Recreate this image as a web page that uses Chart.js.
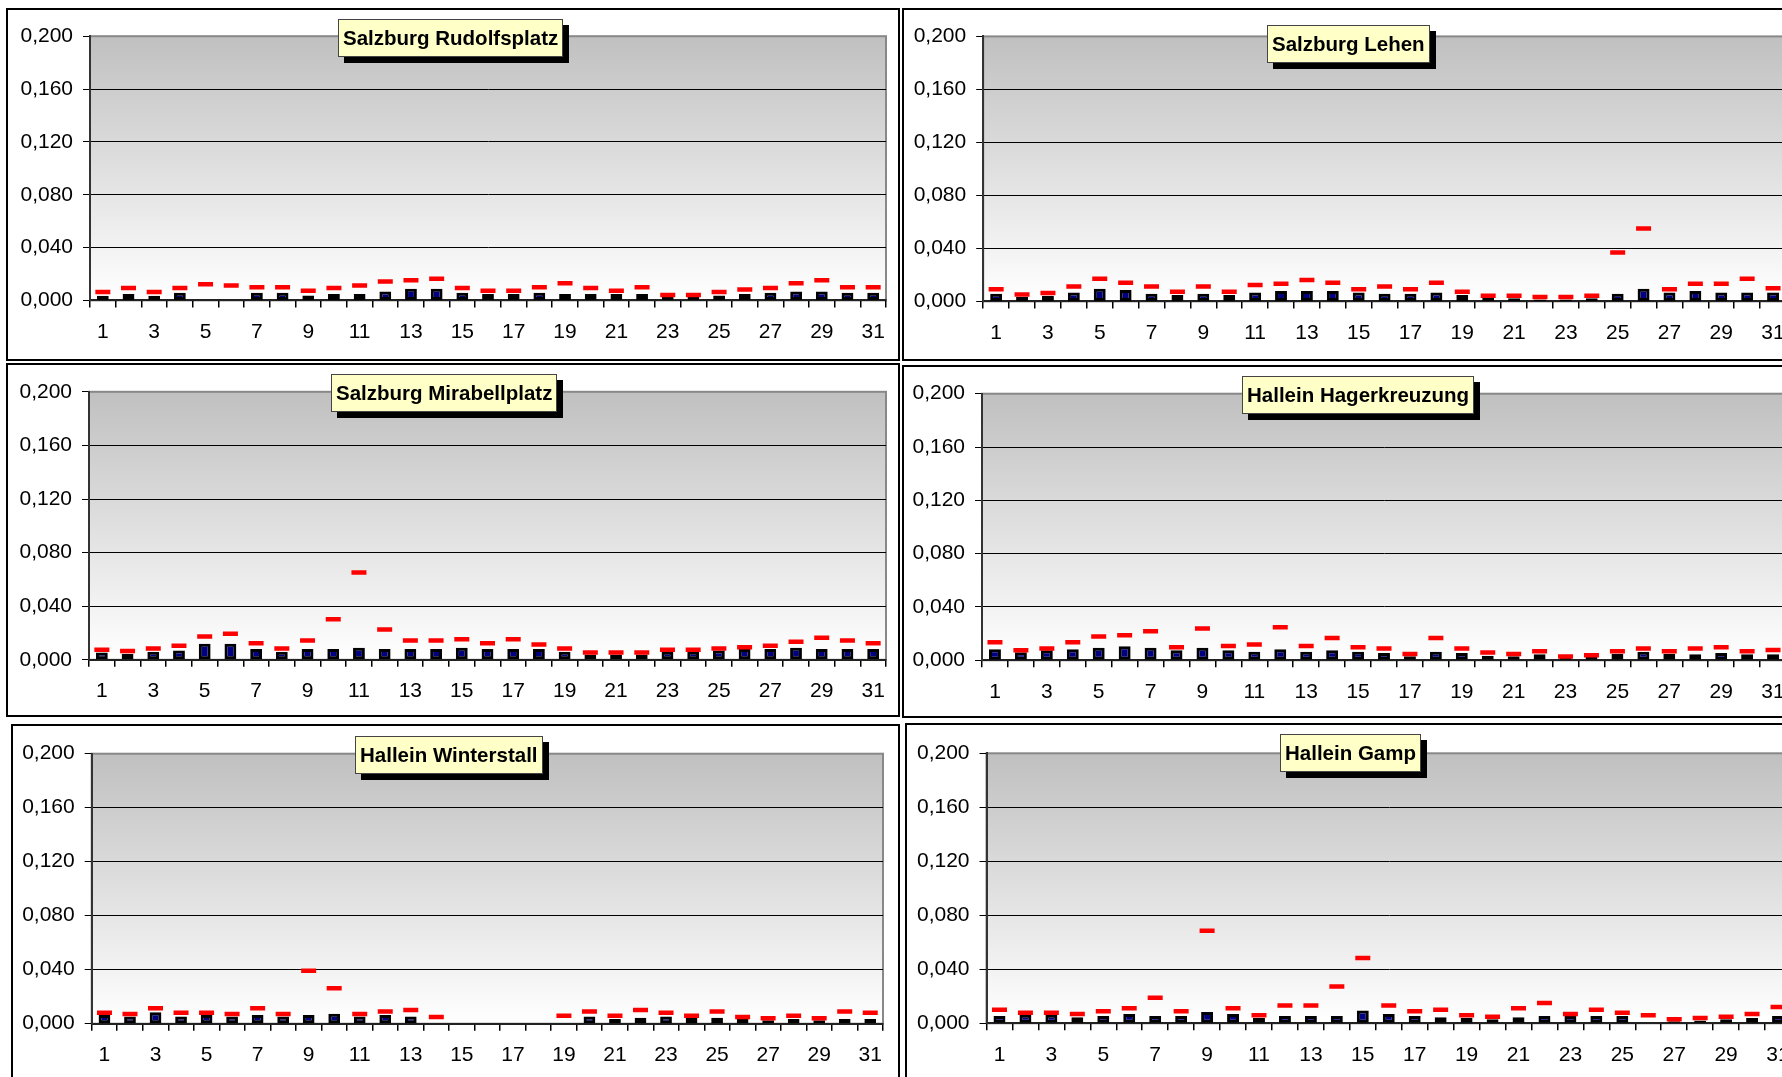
<!DOCTYPE html>
<html>
<head>
<meta charset="utf-8">
<script src="https://cdn.jsdelivr.net/npm/chart.js@4.4.0/dist/chart.umd.min.js"></script>
<style>
  html, body { margin: 0; padding: 0; width: 1782px; height: 1077px; overflow: hidden; background: #ffffff; }
  .panel { position: absolute; border: 2px solid #000; box-sizing: border-box; background: #fff; }
  .panel canvas { position: absolute; left: 0; top: 0; }
  .title {
    position: absolute; z-index: 2; white-space: nowrap; color: #000;
    background: #ffffc8; border: 1px solid #444; box-shadow: 6px 6px 0 #000;
    font: bold 20.5px "Liberation Sans", Arial, sans-serif; line-height: 22px; padding: 7px 4px 7px 4px;
  }
</style>
</head>
<body>
<script>
// Days of the month (x categories)
const days = [1, 2, 3, 4, 5, 6, 7, 8, 9, 10, 11, 12, 13, 14, 15, 16, 17, 18, 19, 20, 21, 22, 23, 24, 25, 26, 27, 28, 29, 30, 31];

// Station names
const stationNames = ["Salzburg Rudolfsplatz", "Salzburg Lehen", "Salzburg Mirabellplatz",
                      "Hallein Hagerkreuzung", "Hallein Winterstall", "Hallein Gamp"];

// Daily means (bars) and daily maxima (red dashes)
const rudolfsplatzMean = [0.0035, 0.0048, 0.0035, 0.0058, null, null, 0.0058, 0.0058, 0.0038, 0.0048, 0.0048, 0.0068, 0.0088, 0.0088, 0.0058, 0.0048, 0.0048, 0.0058, 0.0048, 0.0048, 0.0048, 0.0048, 0.0025, 0.0025, 0.0038, 0.0048, 0.0058, 0.0068, 0.0068, 0.0058, 0.0058];
const rudolfsplatzMax  = [0.0063, 0.0093, 0.0063, 0.0093, 0.0123, 0.0113, 0.0100, 0.0100, 0.0073, 0.0093, 0.0113, 0.0143, 0.0153, 0.0163, 0.0093, 0.0073, 0.0073, 0.0100, 0.0130, 0.0093, 0.0073, 0.0100, 0.0040, 0.0040, 0.0063, 0.0083, 0.0093, 0.0130, 0.0153, 0.0100, 0.0100];

const lehenMean = [0.0058, 0.0033, 0.0043, 0.0068, 0.0096, 0.0086, 0.0058, 0.0048, 0.0058, 0.0048, 0.0068, 0.0078, 0.0078, 0.0078, 0.0068, 0.0058, 0.0058, 0.0068, 0.0048, 0.0028, 0.0023, 0.0015, 0.0015, 0.0023, 0.0058, 0.0096, 0.0068, 0.0078, 0.0068, 0.0068, 0.0068];
const lehenMax  = [0.0091, 0.0053, 0.0063, 0.0113, 0.0171, 0.0141, 0.0113, 0.0073, 0.0113, 0.0073, 0.0123, 0.0133, 0.0161, 0.0141, 0.0091, 0.0113, 0.0091, 0.0141, 0.0073, 0.0043, 0.0043, 0.0033, 0.0033, 0.0043, 0.0370, 0.0551, 0.0091, 0.0133, 0.0133, 0.0171, 0.0100];

const mirabellMean = [0.0055, 0.0045, 0.0060, 0.0070, 0.0119, 0.0119, 0.0080, 0.0060, 0.0080, 0.0080, 0.0090, 0.0080, 0.0080, 0.0080, 0.0090, 0.0080, 0.0080, 0.0080, 0.0060, 0.0040, 0.0040, 0.0040, 0.0060, 0.0060, 0.0070, 0.0080, 0.0080, 0.0090, 0.0080, 0.0080, 0.0080];
const mirabellMax  = [0.0075, 0.0065, 0.0084, 0.0104, 0.0174, 0.0194, 0.0124, 0.0084, 0.0144, 0.0303, 0.0651, 0.0226, 0.0144, 0.0144, 0.0154, 0.0124, 0.0154, 0.0114, 0.0084, 0.0055, 0.0055, 0.0055, 0.0075, 0.0075, 0.0084, 0.0094, 0.0104, 0.0134, 0.0164, 0.0144, 0.0124];

const hagerMean = [0.0083, 0.0060, 0.0075, 0.0083, 0.0095, 0.0105, 0.0095, 0.0075, 0.0095, 0.0075, 0.0065, 0.0083, 0.0065, 0.0075, 0.0065, 0.0055, 0.0030, 0.0065, 0.0055, 0.0035, 0.0030, 0.0045, 0.0020, 0.0025, 0.0050, 0.0065, 0.0050, 0.0045, 0.0055, 0.0045, 0.0045];
const hagerMax  = [0.0135, 0.0075, 0.0088, 0.0135, 0.0178, 0.0188, 0.0218, 0.0098, 0.0238, 0.0108, 0.0118, 0.0248, 0.0108, 0.0168, 0.0098, 0.0088, 0.0048, 0.0168, 0.0088, 0.0058, 0.0048, 0.0068, 0.0028, 0.0038, 0.0068, 0.0088, 0.0068, 0.0088, 0.0098, 0.0068, 0.0078];

const winterstallMean = [0.0064, 0.0054, 0.0084, 0.0054, 0.0064, 0.0054, 0.0064, 0.0054, 0.0064, 0.0074, 0.0054, 0.0064, 0.0054, null, null, null, null, null, null, 0.0054, 0.0035, 0.0044, 0.0054, 0.0044, 0.0044, 0.0035, 0.0025, 0.0035, 0.0025, 0.0035, 0.0035];
const winterstallMax  = [0.0081, 0.0072, 0.0114, 0.0081, 0.0081, 0.0072, 0.0114, 0.0072, 0.0393, 0.0262, 0.0072, 0.0091, 0.0101, 0.0049, null, null, null, null, 0.0059, 0.0091, 0.0059, 0.0101, 0.0081, 0.0059, 0.0091, 0.0049, 0.0040, 0.0059, 0.0040, 0.0091, 0.0081];

const gampMean = [0.0054, 0.0064, 0.0064, 0.0044, 0.0054, 0.0069, 0.0054, 0.0054, 0.0084, 0.0069, 0.0040, 0.0054, 0.0054, 0.0054, 0.0094, 0.0069, 0.0054, 0.0044, 0.0040, 0.0030, 0.0044, 0.0054, 0.0054, 0.0054, 0.0054, null, 0.0015, 0.0020, 0.0030, 0.0040, 0.0054];
const gampMax  = [0.0101, 0.0079, 0.0079, 0.0069, 0.0089, 0.0111, 0.0190, 0.0089, 0.0686, 0.0111, 0.0059, 0.0131, 0.0131, 0.0272, 0.0484, 0.0131, 0.0089, 0.0101, 0.0059, 0.0049, 0.0111, 0.0151, 0.0069, 0.0101, 0.0079, 0.0059, 0.0030, 0.0040, 0.0049, 0.0069, 0.0121];

// Y axis range
const yMin = 0, yMax = 0.2, yStep = 0.04;

// Page geometry of each panel: outer frame, plot area, title box position
const panelLayout = [
  { box: [6, 8.3, 900, 360.7],   plot: [90, 36.5, 888, 300.7],       title: [338, 18.5] },
  { box: [902, 8.3, 1800, 360.7], plot: [983.2, 36.7, 1789, 301.7],  title: [1267, 25] },
  { box: [6, 362.5, 900, 717],   plot: [89, 391.3, 888, 659.3],      title: [331, 374] },
  { box: [902, 365, 1800, 718],  plot: [982, 393.7, 1788, 660.3],    title: [1242, 376] },
  { box: [11, 724, 900, 1100],   plot: [91.7, 753.7, 883, 1023.7],   title: [355, 735.5] },
  { box: [905, 723, 1805, 1100], plot: [986.5, 753.3, 1792.5, 1023.3], title: [1280, 734] }
];

const seriesMean = [rudolfsplatzMean, lehenMean, mirabellMean, hagerMean, winterstallMean, gampMean];
const seriesMax  = [rudolfsplatzMax, lehenMax, mirabellMax, hagerMax, winterstallMax, gampMax];

const FONT = '"Liberation Sans", Arial, sans-serif';
Chart.defaults.font.family = FONT;
Chart.defaults.color = '#000';

// Grey-to-white vertical gradient behind the plot area, with a grey frame
const plotBackground = {
  id: 'plotBackground',
  beforeDraw(chart) {
    const { ctx, chartArea: a } = chart;
    const g = ctx.createLinearGradient(0, a.top, 0, a.bottom);
    g.addColorStop(0, '#c0c0c0');
    g.addColorStop(1, '#ffffff');
    ctx.save();
    ctx.fillStyle = g;
    ctx.fillRect(a.left, a.top, a.right - a.left, a.bottom - a.top);
    ctx.strokeStyle = '#888888';
    ctx.lineWidth = 2;
    ctx.strokeRect(a.left, a.top, a.right - a.left, a.bottom - a.top);
    ctx.restore();
  }
};

function buildPanel(i) {
  const cfg = panelLayout[i];
  const [L, T, R, B] = cfg.box;
  const bw = 2;
  const frame = document.createElement('div');
  frame.className = 'panel';
  Object.assign(frame.style, { left: L + 'px', top: T + 'px', width: (R - L) + 'px', height: (B - T) + 'px' });
  document.body.appendChild(frame);

  const ox = L + bw, oy = T + bw;
  const cw = Math.round(R - L - 2 * bw), ch = Math.round(B - T - 2 * bw);
  const canvas = document.createElement('canvas');
  canvas.width = cw; canvas.height = ch;
  canvas.style.width = cw + 'px'; canvas.style.height = ch + 'px';
  frame.appendChild(canvas);

  const [pl, pt, pr, pb] = cfg.plot;
  const yW = 75, xH = 50;
  const pad = { left: pl - ox - yW, top: pt - oy, right: ox + cw - pr, bottom: oy + ch - pb - xH };

  const title = document.createElement('div');
  title.className = 'title';
  title.textContent = stationNames[i];
  title.style.left = cfg.title[0] + 'px';
  title.style.top = cfg.title[1] + 'px';
  document.body.appendChild(title);

  new Chart(canvas, {
    data: {
      labels: days.map(String),
      datasets: [
        {
          type: 'line',
          label: 'Max',
          data: seriesMax[i],
          showLine: false,
          pointStyle: 'line',
          pointRadius: 7.5,
          pointHoverRadius: 7.5,
          pointBorderWidth: 4.5,
          pointBorderColor: '#ff0000',
          pointBackgroundColor: '#ff0000',
          order: 0
        },
        {
          type: 'bar',
          label: 'Mittel',
          data: seriesMean[i],
          backgroundColor: '#000080',
          borderColor: '#000000',
          borderWidth: 3,
          borderSkipped: false,
          categoryPercentage: 1,
          barPercentage: 0.46,
          order: 1
        }
      ]
    },
    options: {
      responsive: false,
      animation: false,
      events: [],
      layout: { padding: pad },
      plugins: { legend: { display: false }, tooltip: { enabled: false } },
      scales: {
        x: {
          type: 'category',
          offset: true,
          grid: { offset: true, drawOnChartArea: false, drawTicks: true, tickLength: 7, color: '#000', lineWidth: 1.5 },
          border: { display: true, color: '#222', width: 2 },
          ticks: {
            autoSkip: false, maxRotation: 0, minRotation: 0, padding: 12, color: '#000',
            font: { family: FONT, size: 21 },
            callback(v, idx) { return idx % 2 === 0 ? this.getLabelForValue(v) : ''; }
          },
          afterFit(s) { s.height = xH; }
        },
        y: {
          min: yMin, max: yMax,
          ticks: {
            stepSize: yStep, padding: 10, color: '#000',
            font: { family: FONT, size: 21 },
            callback: v => v.toFixed(3).replace('.', ',')
          },
          grid: {
            color: ctx => (ctx.tick && Math.abs(ctx.tick.value - yMax) < 1e-9) ? '#888888' : '#000000',
            tickColor: '#000', lineWidth: 1, tickLength: 7, drawTicks: true
          },
          border: { display: true, color: '#333', width: 2 },
          afterFit(s) { s.width = yW; }
        }
      }
    },
    plugins: [plotBackground]
  });
}

for (let i = 0; i < panelLayout.length; i++) buildPanel(i);
</script>
</body>
</html>
